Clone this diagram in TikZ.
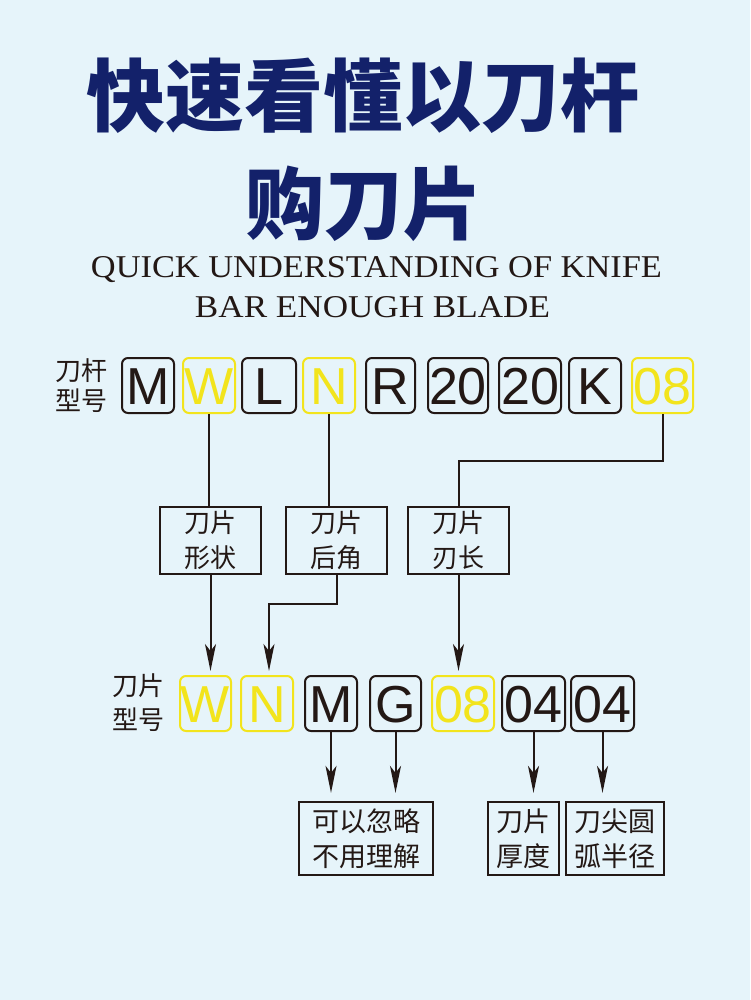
\documentclass[tikz,border=0pt]{standalone}
\usepackage{fontspec}
\usetikzlibrary{arrows.meta}
\newfontfamily\cjk{Noto Sans CJK SC}
\newfontfamily\lsans{Liberation Sans}
\newfontfamily\lserif{Liberation Serif}
\definecolor{bg}{HTML}{E6F4FA}
\definecolor{ink}{HTML}{231815}
\definecolor{yel}{HTML}{F2E41C}
\definecolor{navy}{HTML}{13216A}
\begin{document}
\begin{tikzpicture}[x=1pt,y=-1pt,
  title/.style={text=navy,inner sep=0,font=\cjk\bfseries\fontsize{79}{79}\selectfont},
  eng/.style={text=ink,inner sep=0,anchor=base,font=\lserif\fontsize{30}{30}\selectfont},
  lbox/.style={draw=ink,text=ink,rounded corners=6pt,line width=2pt,minimum height=55pt,inner sep=0,
    text height=37pt,text depth=0pt,font=\lsans\fontsize{52}{52}\selectfont},
  ybox/.style={lbox,draw=yel,text=yel},
  fbox/.style={draw=ink,text=ink,line width=2.3pt,inner sep=0,align=center,font=\cjk\fontsize{26}{35}\selectfont},
  lab/.style={text=ink,inner sep=0,align=center,font=\cjk\fontsize{26}{30}\selectfont},
  ln/.style={draw=ink,line width=2pt},
  arr/.style={ln,-{Stealth[length=27pt,width=11pt,inset=7pt]},shorten >=4pt}
]
\fill[bg] (0,0) rectangle (750,1000);
\useasboundingbox (0,0) rectangle (750,1000);
% title
\node[title] (t1) at (363,96) {快速看懂以刀杆};
\node[title] (t2) at (364,204) {购刀片};
\node[eng] (e1) at (376.5,277) {\resizebox{571pt}{21pt}{QUICK UNDERSTANDING OF KNIFE}};
\node[eng] (e2) at (372.5,317) {\resizebox{355pt}{21pt}{BAR ENOUGH BLADE}};
% top row
\node[lab] (la1) at (81,386) {刀杆\\型号};
\node[lbox,minimum width=52pt] (tM) at (148,385.5) {M};
\node[ybox,minimum width=52pt] (tW) at (209,385.5) {W};
\node[lbox,minimum width=54pt] (tL) at (269,385.5) {L};
\node[ybox,minimum width=52pt] (tN) at (329,385.5) {N};
\node[lbox,minimum width=49pt] (tR) at (390.5,385.5) {R};
\node[lbox,minimum width=60pt] (t20a) at (458,385.5) {20};
\node[lbox,minimum width=62pt] (t20b) at (530,385.5) {20};
\node[lbox,minimum width=52pt] (tK) at (595,385.5) {K};
\node[ybox,minimum width=61pt] (t08) at (662.5,385.5) {08};
% middle boxes
\node[fbox,minimum width=101pt,minimum height=67pt] (f1) at (210.5,540.5) {刀片\\形状};
\node[fbox,minimum width=101pt,minimum height=67pt] (f2) at (336.5,540.5) {刀片\\后角};
\node[fbox,minimum width=101pt,minimum height=67pt] (f3) at (458.5,540.5) {刀片\\刃长};
% bottom row
\node[lab,font=\cjk\fontsize{26}{34}\selectfont] (la2) at (138,703) {刀片\\型号};
\node[ybox,minimum width=51pt] (bW) at (205.5,703.5) {W};
\node[ybox,minimum width=52pt] (bN) at (267,703.5) {N};
\node[lbox,minimum width=52pt] (bM) at (331,703.5) {M};
\node[lbox,minimum width=51pt] (bG) at (395.5,703.5) {G};
\node[ybox,minimum width=62pt] (b08) at (463,703.5) {08};
\node[lbox,minimum width=63pt] (b04a) at (533.5,703.5) {04};
\node[lbox,minimum width=63pt] (b04b) at (602.5,703.5) {04};
% lower boxes
\node[fbox,font=\cjk\fontsize{27}{35}\selectfont,minimum width=134pt,minimum height=73pt] (g1) at (366,838.5) {可以忽略\\不用理解};
\node[fbox,font=\cjk\fontsize{27}{35}\selectfont,minimum width=71pt,minimum height=73pt] (g2) at (523.5,838.5) {刀片\\厚度};
\node[fbox,font=\cjk\fontsize{27}{35}\selectfont,minimum width=98pt,minimum height=73pt] (g3) at (615,838.5) {刀尖圆\\弧半径};
% connectors top
\draw[ln] (tW.south) -- (tW.south |- f1.north);
\draw[ln] (tN.south) -- (tN.south |- f2.north);
\coordinate (k1) at (459,461);
\draw[ln] (t08.south) |- (k1) -- (k1 |- f3.north);
% arrows to bottom row
\draw[arr] (f1.south) -- (f1.south |- bW.north);
\coordinate (k2) at (269,604);
\draw[arr] (f2.south) |- (k2) -- (k2 |- bN.north);
\draw[arr] (f3.south) -- (f3.south |- b08.north);
% arrows to lower boxes
\draw[arr,shorten >=8pt] (bM.south) -- (bM.south |- g1.north);
\draw[arr,shorten >=8pt] (bG.south) -- (bG.south |- g1.north);
\draw[arr,shorten >=8pt] (b04a.south) -- (b04a.south |- g2.north);
\draw[arr,shorten >=8pt] (b04b.south) -- (b04b.south |- g3.north);
\end{tikzpicture}
\end{document}
